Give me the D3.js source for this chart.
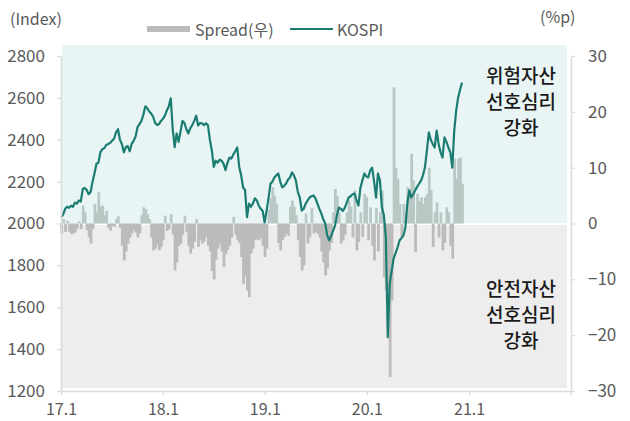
<!DOCTYPE html>
<html>
<head>
<meta charset="utf-8">
<script src="https://cdn.jsdelivr.net/npm/d3@7"></script>
<style>
  body { margin: 0; background: #fff; }
  text { font-family: "Noto Sans CJK KR", "Noto Sans", sans-serif; }
</style>
</head>
<body>
<svg id="chart" width="630" height="421"></svg>
<script>
// weekly series, first week starts 2017-01-02
const firstWeek = '2017-01-02';

// KOSPI (left axis, index)
const kospi = [
  2030, 2045, 2070, 2080, 2075, 2085, 2080, 2100, 2095, 2110,
  2105, 2165, 2170, 2160, 2140, 2150, 2200, 2240, 2285, 2290,
  2340, 2355, 2360, 2375, 2380, 2385, 2395, 2405, 2435, 2450,
  2400, 2380, 2340, 2365, 2370, 2345, 2380, 2395, 2415, 2460,
  2475, 2490, 2520, 2560, 2550, 2535, 2525, 2510, 2480, 2470,
  2475, 2490, 2500, 2515, 2540, 2560, 2598, 2450, 2365, 2430,
  2390, 2440, 2490, 2480, 2450, 2430, 2455, 2470, 2490, 2515,
  2468, 2480, 2478, 2470, 2478, 2470, 2400, 2350, 2270, 2300,
  2290, 2305, 2300, 2285, 2255, 2290, 2315, 2310, 2330, 2345,
  2363, 2270, 2230, 2172, 2160, 2030, 2095, 2080, 2095, 2120,
  2110, 2086, 2070, 2060, 2005, 2060, 2120, 2190, 2200, 2220,
  2230, 2239, 2200, 2172, 2180, 2191, 2210, 2220, 2244, 2230,
  2205, 2150, 2124, 2062, 2070, 2095, 2110, 2124, 2130, 2134,
  2120, 2095, 2070, 2048, 2020, 2000, 1945, 1919, 1940, 1965,
  1990, 2040, 2076, 2070, 2060, 2075, 2100, 2124, 2130, 2140,
  2143, 2110, 2086, 2170, 2205, 2239, 2225, 2220, 2253, 2267,
  2200, 2124, 2239, 2205, 2076, 2040, 1933, 1457, 1713, 1775,
  1833, 1860, 1885, 1919, 1930, 1943, 1981, 2095, 2158, 2124,
  2140, 2158, 2175, 2190, 2205, 2230, 2267, 2348, 2435, 2400,
  2380, 2363, 2444, 2380, 2340, 2315, 2411, 2390, 2363, 2340,
  2267, 2444, 2540, 2602, 2640, 2673
];

// Spread (right axis, %p)
const spread = [
  -1.8, 0.8, -1.5, 0.5, -1.5, -1.9, -1.8, -1.6, -1.0, 0.4,
  -1.0, 3.2, 2.0, -1.2, -2.5, -3.6, -1.0, 3.5, 2.0, 5.6,
  3.0, 3.2, 1.5, 2.3, -0.8, -1.3, -0.4, -0.6, 0.8, 1.3,
  -0.8, -4.0, -6.6, -5.0, -3.6, -2.5, -1.8, -1.2, -1.6, -2.5,
  -1.8, 1.5, 2.9, 2.6, 1.7, 0.8, -2.5, -4.8, -4.5, -3.8,
  -4.8, -4.2, -3.0, 1.4, -1.3, -1.0, 1.7, -2.0, -8.4, -7.0,
  -4.0, -3.6, -2.0, 1.4, -1.5, -4.0, -5.4, -4.5, -3.3, 0.8,
  -4.2, -3.0, -3.6, -3.2, -2.4, -4.0, -5.0, -8.5, -10.0, -6.5,
  -4.5, -3.6, -5.0, -7.8, -5.5, -4.7, -4.0, -2.5, 1.2, -2.0,
  -3.0, -3.5, -6.0, -10.8, -9.5, -12.0, -13.2, -5.4, -4.5, -3.0,
  -2.8, -3.0, -2.5, -4.0, -6.0, -4.5, 2.5, 4.5, 6.5, 5.0,
  3.5, -3.5, -4.8, -3.0, -2.4, -1.8, -2.2, 3.0, 4.1, 3.0,
  1.5, -3.0, -6.0, -8.4, -7.5, 1.8, -3.6, -2.5, 2.8, -1.8,
  -1.5, -1.8, -2.5, -5.0, -7.0, -9.3, -8.0, -4.8, -3.5, 2.0,
  6.2, 5.0, 2.0, -3.6, -3.0, -2.0, 2.0, 4.1, 3.0, -2.5,
  5.9, -4.8, -3.3, 2.0, -2.4, 5.3, 4.7, -3.0, 2.9, -4.0,
  -6.6, 2.8, -5.0, 2.0, 5.9, -9.6, -12.0, -13.0, -27.5, -13.8,
  24.4, 10.0, 8.0, 3.5, -2.4, 3.5, 2.0, 6.5, 5.0, 12.5,
  7.7, -5.1, 5.3, 4.0, 4.7, 3.5, 4.7, 5.3, 10.0, 6.0,
  -4.2, 2.0, 3.8, -2.5, 2.0, -4.8, -3.5, 2.9, 2.0, -4.0,
  -6.3, 11.6, 8.0, 11.6, 11.8, 7.1
];

const xTicks = ['2017-01-01', '2018-01-01', '2019-01-01', '2020-01-01', '2021-01-01', '2022-01-01'];
const xTickLabels = ['17.1', '18.1', '19.1', '20.1', '21.1', ''];
const leftTicks = [1200, 1400, 1600, 1800, 2000, 2200, 2400, 2600, 2800];
const rightTicks = [-30, -20, -10, 0, 10, 20, 30];

const parse = d3.timeParse('%Y-%m-%d');
const start = parse(firstWeek);
const weeks = kospi.map((d, i) => d3.timeWeek.offset(start, i));

const svg = d3.select('#chart');
const plotL = 61, plotR = 571, plotT = 56, plotB = 391;

const x = d3.scaleTime()
  .domain([parse(xTicks[0]), parse(xTicks[xTicks.length - 1])])
  .range([plotL, plotR]);
const yL = d3.scaleLinear().domain([1200, 2800]).range([plotB, plotT]);
const yR = d3.scaleLinear().domain([-30, 30]).range([plotB, plotT]);

// background zones
svg.append('rect')
  .attr('x', plotL + 1).attr('y', 45)
  .attr('width', 567 - plotL - 1).attr('height', yR(0) - 45 - 0.5)
  .attr('fill', '#e9f5f5');
svg.append('rect')
  .attr('x', plotL + 1).attr('y', yR(0) + 1.5)
  .attr('width', 567 - plotL - 1).attr('height', 388 - yR(0) - 1.5)
  .attr('fill', '#ededed');

// spread bars (slightly overlapped so they read as a filled band)
const barW = x(weeks[1]) - x(weeks[0]);
svg.append('g')
  .selectAll('rect')
  .data(spread)
  .enter()
  .append('rect')
  .attr('x', (d, i) => x(weeks[i]) - barW / 2)
  .attr('width', barW + 0.8)
  .attr('y', d => d >= 0 ? yR(d) : yR(0))
  .attr('height', d => Math.abs(yR(d) - yR(0)))
  .attr('fill', d => d >= 0 ? '#b8c9c5' : '#bbbbbb');

// kospi line
const line = d3.line()
  .x((d, i) => x(weeks[i]))
  .y(d => yL(d));
svg.append('path')
  .datum(kospi)
  .attr('d', line)
  .attr('fill', 'none')
  .attr('stroke', '#1b7d71')
  .attr('stroke-width', 2.2)
  .attr('stroke-linejoin', 'round');

// axes
const styleAxis = (g, size) => {
  g.selectAll('.domain').attr('stroke', '#d9d9d9').attr('stroke-width', 1.5);
  g.selectAll('.tick line').attr('stroke', '#d9d9d9').attr('stroke-width', 1.2);
  g.selectAll('text')
    .attr('fill', '#595959')
    .style('font-size', size)
    .style('font-family', '"Noto Sans CJK KR", "Noto Sans", sans-serif');
};

svg.append('g')
  .attr('transform', `translate(${plotL},0)`)
  .call(d3.axisLeft(yL).tickValues(leftTicks).tickSize(4).tickSizeOuter(0).tickPadding(12).tickFormat(d3.format('d')))
  .call(styleAxis, '17px');

svg.append('g')
  .attr('transform', `translate(${plotR},0)`)
  .call(d3.axisRight(yR).tickValues(rightTicks).tickSize(4).tickSizeOuter(0).tickPadding(13))
  .call(styleAxis, '17px');

svg.append('g')
  .attr('transform', `translate(0,${plotB})`)
  .call(d3.axisBottom(x).tickValues(xTicks.map(parse)).tickSize(4).tickSizeOuter(0).tickPadding(9)
    .tickFormat((d, i) => xTickLabels[i]))
  .call(styleAxis, '16px');

// unit labels
svg.append('text').attr('x', 10).attr('y', 25)
  .attr('fill', '#595959').style('font-size', '16px').text('(Index)');
svg.append('text').attr('x', 540).attr('y', 23)
  .attr('fill', '#595959').style('font-size', '16px').text('(%p)');

// legend
svg.append('rect').attr('x', 147).attr('y', 26).attr('width', 43).attr('height', 6).attr('fill', '#bbbbbb');
svg.append('text').attr('x', 195).attr('y', 36)
  .attr('fill', '#595959').style('font-size', '16px').text('Spread(우)');
svg.append('line').attr('x1', 290).attr('x2', 333).attr('y1', 29).attr('y2', 29)
  .attr('stroke', '#1b7d71').attr('stroke-width', 2);
svg.append('text').attr('x', 337).attr('y', 36)
  .attr('fill', '#595959').style('font-size', '16px').text('KOSPI');

// annotations
const notes = [
  { lines: ['위험자산', '선호심리', '강화'], y: 83 },
  { lines: ['안전자산', '선호심리', '강화'], y: 296 }
];
notes.forEach(n => {
  n.lines.forEach((t, i) => {
    svg.append('text')
      .attr('x', 521).attr('y', n.y + i * 26)
      .attr('text-anchor', 'middle')
      .attr('fill', '#1a1a1a')
      .style('font-size', '19px')
      .style('font-weight', 500)
      .text(t);
  });
});
</script>
</body>
</html>
